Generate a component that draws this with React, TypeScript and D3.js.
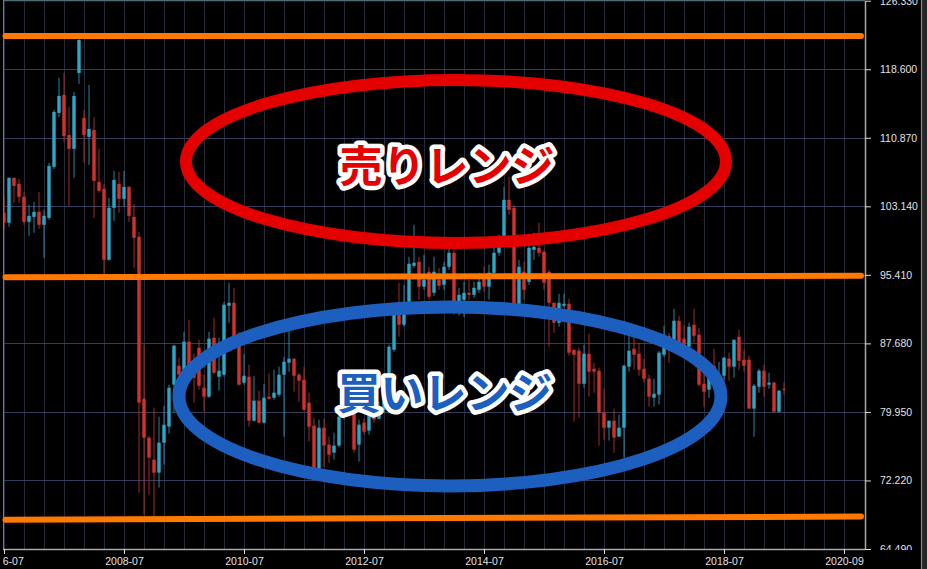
import * as d3 from "d3";
import { useEffect, useRef } from "react";

// monthly candles, index 0 = 2006-07
const opens = [
  102.4, 101.28, 106.35, 105.67, 104.21, 101.39, 101.95, 102.52, 101.05, 101.84,
  107.59, 113.68, 115.7, 111.19, 109.62, 118.18, 113.11, 110.97, 111.76, 105.9,
  105.11, 97.11, 102.97, 105.67, 103.98, 105.33, 101.95, 99.7, 81.44, 77.05,
  74.57, 73.1, 76.48, 78.29, 83.02, 85.16, 84.71, 87.87, 84.71, 87.19,
  82.68, 81.67, 88.32, 83.92, 84.15, 91.92, 92.26, 88.43, 83.25, 83.92,
  78.96, 81.22, 78.74, 81.67, 81.55, 81.89, 84.15, 85.5, 85.95, 84.15,
  83.58, 80.99, 78.4, 73.22, 78.17, 76.26, 75.36, 76.15, 79.41, 80.2,
  79.98, 76.26, 78.74, 77.84, 79.41, 79.19, 80.2, 82.12, 86.96, 91.13,
  89.78, 92.37, 96.43, 96.88, 94.07, 95.76, 93.39, 94.85, 94.29, 96.32,
  97.9, 91.47, 92.6, 93.39, 93.16, 93.73, 95.19, 94.07, 95.64, 97.9,
  99.7, 103.87, 102.97, 91.47, 95.76, 94.63, 98.23, 98.46, 98.01, 95.76,
  92.26, 90.01, 91.92, 92.15, 86.96, 86.85, 83.13, 86.51, 84.82, 84.6,
  79.86, 78.17, 78.96, 77.16, 78.17, 85.05, 87.08, 86.51, 84.82, 83.7,
  81.55, 81.89, 86.4, 88.54, 87.53, 90.23, 88.21, 87.3, 89.78, 88.66,
  83.13, 82.46, 85.16, 83.81, 84.03, 85.95, 85.05, 88.43, 85.84, 85.84,
  80.32, 82.79, 84.6, 83.02, 83.25, 79.98, 82.57,
];
const highs = [
  104.21, 106.4, 106.4, 106.24, 104.77, 103.31, 103.65, 104.77, 102.74, 108.04,
  114.01, 117.62, 118.18, 114.35, 116.04, 122.24, 114.01, 116.83, 113.22, 109.62,
  105.67, 104.1, 107.14, 107.03, 107.14, 105.45, 103.42, 100.26, 87.53, 77.27,
  80.43, 79.41, 80.65, 83.02, 87.53, 86.06, 88.99, 90.35, 86.51, 88.09,
  84.15, 88.99, 90.57, 88.32, 92.37, 94.52, 93.95, 88.99, 86.51, 85.27,
  84.03, 82.34, 83.13, 84.26, 84.71, 85.05, 86.17, 89.22, 86.06, 84.37,
  85.05, 82.12, 79.3, 79.08, 79.19, 77.16, 77.61, 80.54, 80.77, 80.88,
  80.54, 79.08, 79.19, 79.98, 79.64, 81.1, 82.12, 87.53, 91.47, 94.52,
  94.29, 97.45, 101.05, 97.45, 97.67, 96.32, 97.45, 96.21, 96.88, 98.8,
  98.23, 93.95, 94.63, 94.85, 94.63, 95.64, 96.32, 96.55, 99.7, 99.93,
  105.33, 106.46, 103.31, 97.11, 96.88, 99.93, 100.15, 101.28, 98.23, 95.98,
  92.26, 93.28, 93.28, 92.71, 86.96, 87.19, 87.53, 88.77, 85.5, 84.94,
  82.57, 78.96, 80.32, 79.64, 85.27, 88.77, 88.43, 87.75, 85.95, 84.15,
  83.7, 86.85, 89.67, 88.88, 91.59, 90.8, 89.78, 90.01, 91.59, 89.44,
  84.71, 85.61, 87.08, 85.61, 86.17, 86.63, 88.09, 89.22, 86.96, 86.29,
  83.13, 84.82, 85.27, 84.37, 83.36, 82.46, 83.25,
];
const lows = [
  100.49, 100.83, 103.53, 103.53, 101.05, 99.81, 100.15, 100.6, 97.33, 101.61,
  107.36, 113.22, 110.41, 103.19, 106.35, 116.94, 108.04, 107.81, 101.84, 104.66,
  95.42, 97.0, 101.5, 102.4, 103.08, 101.39, 96.21, 70.85, 68.37, 70.62,
  68.14, 71.41, 74.0, 77.5, 79.86, 81.89, 83.58, 83.81, 81.0, 82.46,
  79.98, 81.55, 84.15, 82.34, 83.92, 90.01, 88.09, 82.91, 83.02, 78.29,
  78.85, 78.62, 78.62, 81.33, 81.33, 81.67, 77.16, 84.49, 82.23, 81.1,
  80.09, 76.6, 73.1, 73.1, 73.78, 74.23, 74.57, 76.03, 79.08, 79.3,
  75.36, 74.34, 77.39, 77.39, 78.74, 79.08, 79.86, 81.89, 86.74, 88.43,
  89.56, 92.04, 96.21, 92.6, 93.73, 92.6, 93.05, 93.73, 93.73, 95.98,
  90.91, 90.8, 90.68, 92.6, 92.83, 93.39, 93.5, 92.6, 95.3, 97.56,
  99.36, 102.18, 91.25, 90.91, 92.6, 94.29, 97.11, 97.45, 93.73, 87.3,
  88.88, 89.56, 91.7, 86.29, 78.85, 79.3, 82.68, 81.67, 82.12, 76.15,
  76.82, 76.71, 75.36, 77.16, 74.79, 84.49, 84.71, 84.03, 83.25, 80.54,
  80.54, 80.77, 86.17, 85.5, 87.3, 87.19, 86.96, 86.96, 87.75, 82.79,
  80.54, 81.55, 84.15, 83.47, 83.58, 83.47, 83.81, 84.71, 84.49, 80.32,
  77.16, 82.12, 81.67, 82.57, 79.98, 79.86, 81.89,
];
const closes = [
  101.28, 106.35, 105.45, 104.21, 101.39, 102.07, 102.52, 101.05, 102.07, 107.7,
  113.79, 115.59, 111.08, 109.62, 115.59, 121.9, 111.19, 111.87, 106.01, 104.89,
  97.11, 102.97, 106.12, 103.98, 105.33, 102.07, 99.59, 81.0, 77.05, 74.79,
  73.1, 76.48, 78.51, 82.68, 87.42, 84.15, 87.87, 84.71, 83.81, 82.91,
  81.67, 88.21, 84.37, 84.6, 92.04, 92.26, 88.32, 83.02, 84.03, 78.96,
  81.22, 78.74, 81.55, 81.44, 82.12, 84.15, 85.61, 85.95, 84.03, 83.47,
  80.2, 78.29, 73.22, 78.17, 76.15, 75.13, 76.15, 79.41, 80.2, 79.86,
  75.69, 78.51, 77.72, 79.64, 79.08, 80.2, 81.67, 87.3, 90.91, 89.78,
  92.37, 96.66, 96.77, 94.07, 94.85, 92.94, 95.76, 94.18, 96.32, 97.9,
  91.13, 93.16, 93.39, 93.16, 93.95, 94.63, 94.07, 95.64, 97.9, 99.7,
  103.87, 102.74, 91.7, 96.32, 93.73, 98.46, 98.57, 97.9, 94.52, 92.26,
  90.01, 92.26, 92.15, 86.63, 86.4, 83.13, 86.51, 84.49, 84.49, 79.86,
  78.17, 78.96, 77.05, 78.17, 85.16, 86.85, 86.4, 84.71, 83.7, 81.67,
  82.0, 86.63, 88.66, 87.53, 90.23, 87.75, 87.53, 89.56, 88.54, 83.02,
  82.23, 83.92, 84.49, 84.15, 86.06, 85.05, 88.09, 85.73, 85.16, 80.32,
  82.91, 84.6, 82.79, 83.25, 79.98, 82.34, 82.46,
];

const priceTicks = [64.49, 72.22, 79.95, 87.68, 95.41, 103.14, 110.87, 118.6, 126.33];
const dateTickIndex = [0, 24, 48, 72, 96, 120, 144, 168];
const dateTickLabels = ["2006-07", "2008-07", "2010-07", "2012-07", "2014-07", "2016-07", "2018-07", "2020-09"];

// hand drawn range lines (price at left end / right end)
const levelStart = [122.35, 95.15, 67.8];
const levelEnd = [122.35, 95.3, 68.15];

const sellLabel = "売りレンジ";
const buyLabel = "買いレンジ";

const UP = "#2ba7c9";
const DOWN = "#d2322f";

const App: React.FC = () => {
  const ref = useRef<SVGSVGElement | null>(null);

  useEffect(() => {
    if (!ref.current) return;
    const width = 927;
    const height = 569;
    const left = 3;
    const right = 865;
    const bottom = 549;

    const svg = d3.select(ref.current);
    svg.selectAll("*").remove();
    svg.attr("width", width).attr("height", height);

    const x = d3.scaleLinear().domain([0, 172]).range([4, 864]);
    const y = d3.scaleLinear().domain([64.49, 126.33]).range([bottom, 0.7]);

    const defs = svg.append("defs");
    defs.append("clipPath").attr("id", "plot").append("rect")
      .attr("x", left).attr("y", 0).attr("width", right - left).attr("height", bottom);
    defs.append("clipPath").attr("id", "yax").append("rect")
      .attr("x", right - 2).attr("y", 0).attr("width", 60).attr("height", bottom + 1);
    defs.append("clipPath").attr("id", "xax").append("rect")
      .attr("x", left).attr("y", bottom - 2).attr("width", right - left + 40).attr("height", 30);

    svg.append("rect").attr("width", width).attr("height", height).attr("fill", "#000");
    svg.append("rect").attr("x", 922).attr("width", 5).attr("height", height).attr("fill", "#262626");
    svg.append("line").attr("x1", 921.5).attr("x2", 921.5).attr("y1", 0).attr("y2", height)
      .attr("stroke", "#8a8a8a").attr("stroke-width", 1.2);

    const plot = svg.append("g").attr("clip-path", "url(#plot)");

    // grid
    plot.append("g").selectAll("line").data(d3.range(0, 172, 4)).join("line")
      .attr("x1", (d) => x(d) + 0.5).attr("x2", (d) => x(d) + 0.5)
      .attr("y1", 0).attr("y2", bottom)
      .attr("stroke", "#252b3b").attr("stroke-width", 1);
    plot.append("g").selectAll("line").data(priceTicks.slice(1, -1)).join("line")
      .attr("x1", left).attr("x2", right)
      .attr("y1", (d) => Math.round(y(d)) + 0.5).attr("y2", (d) => Math.round(y(d)) + 0.5)
      .attr("stroke", "#343e5c").attr("stroke-width", 1);

    // candles
    const idx = d3.range(opens.length);
    const color = (i: number) => (closes[i] >= opens[i] ? UP : DOWN);
    plot.append("g").selectAll("line").data(idx).join("line")
      .attr("x1", (i) => x(i)).attr("x2", (i) => x(i))
      .attr("y1", (i) => y(highs[i])).attr("y2", (i) => y(lows[i]))
      .attr("stroke", color).attr("stroke-opacity", 0.8).attr("stroke-width", 1);
    plot.append("g").selectAll("rect").data(idx).join("rect")
      .attr("x", (i) => x(i) - 1.7)
      .attr("width", 3.4)
      .attr("y", (i) => y(Math.max(opens[i], closes[i])))
      .attr("height", (i) => Math.max(1, Math.abs(y(opens[i]) - y(closes[i]))))
      .attr("fill", color);

    // borders
    svg.append("line").attr("x1", left).attr("x2", right).attr("y1", 0.5).attr("y2", 0.5)
      .attr("stroke", "#4f6d76").attr("stroke-width", 1.5);
    svg.append("line").attr("x1", left + 0.5).attr("x2", left + 0.5).attr("y1", 0).attr("y2", bottom)
      .attr("stroke", "#7a7a7a").attr("stroke-width", 1);

    // axes
    const yAxis = svg.append("g").attr("clip-path", "url(#yax)").append("g")
      .attr("transform", `translate(${right},0)`)
      .call(d3.axisRight(y).tickValues(priceTicks).tickFormat(d3.format(".3f"))
        .tickSize(6).tickSizeOuter(0).tickPadding(9));
    const xAxis = svg.append("g").attr("clip-path", "url(#xax)").append("g")
      .attr("transform", `translate(0,${bottom})`)
      .call(d3.axisBottom(x).tickValues(dateTickIndex)
        .tickFormat((_d, i) => dateTickLabels[i]).tickSize(5).tickSizeOuter(0).tickPadding(4));
    xAxis.select(".domain").attr("d", `M${left},0.5H${right}`);
    [yAxis, xAxis].forEach((g) => {
      g.select(".domain").attr("stroke", "#a8a8a8").attr("stroke-width", 1.5);
      g.selectAll(".tick line").attr("stroke", "#d8d8d8");
      g.selectAll(".tick text")
        .attr("fill", "#e2e2e2")
        .attr("font-family", "'Liberation Sans', Arial, sans-serif")
        .attr("font-size", 10.5);
    });

    // range lines
    svg.append("g").selectAll("line").data(levelStart).join("line")
      .attr("x1", x(0.3)).attr("x2", x(171.4))
      .attr("y1", (d) => y(d)).attr("y2", (_d, i) => y(levelEnd[i]))
      .attr("stroke", "#ff7800").attr("stroke-width", 6).attr("stroke-linecap", "round");

    // zone ellipses
    svg.append("ellipse").attr("cx", 456).attr("cy", y(108.2)).attr("rx", 270).attr("ry", 81.5)
      .attr("fill", "none").attr("stroke", "#e50000").attr("stroke-width", 12);
    svg.append("ellipse").attr("cx", 450).attr("cy", y(81.7)).attr("rx", 271).attr("ry", 89.5)
      .attr("fill", "none").attr("stroke", "#1d5fbf").attr("stroke-width", 13);

    const label = (text: string, cx: number, cy: number, fill: string) =>
      svg.append("text").text(text)
        .attr("x", cx).attr("y", cy)
        .attr("text-anchor", "middle").attr("dominant-baseline", "central")
        .attr("font-family", "'Noto Sans CJK JP', sans-serif")
        .attr("font-weight", 700).attr("font-size", 43)
        .attr("fill", fill).attr("stroke", "#fff").attr("stroke-width", 9)
        .attr("stroke-linejoin", "round").attr("paint-order", "stroke");
    label(sellLabel, 447, 163, "#e50000");
    label(buyLabel, 445, 390, "#1d5fbf");
  }, []);

  return <svg ref={ref} style={{ position: "fixed", left: 0, top: 0, display: "block" }}></svg>;
};

export default App;
